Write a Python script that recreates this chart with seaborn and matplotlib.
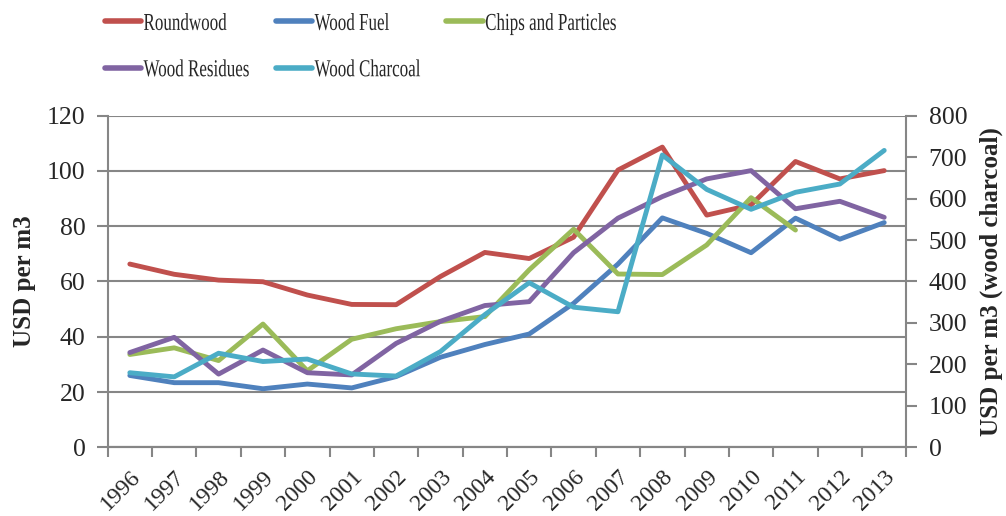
import numpy as np
import pandas as pd
import seaborn as sns
import matplotlib
matplotlib.use("Agg")
import matplotlib.pyplot as plt
from matplotlib.patheffects import AbstractPathEffect
from matplotlib.transforms import Affine2D, ScaledTranslation
from matplotlib.lines import Line2D

years = [str(y) for y in range(1996, 2014)]

roundwood = [66.3, 62.6, 60.5, 59.9, 55.1, 51.7, 51.6, 61.8, 70.5, 68.3,
             76.0, 100.3, 108.6, 84.0, 87.7, 103.4, 97.1, 100.1]
wood_fuel = [26.0, 23.4, 23.4, 21.2, 22.9, 21.5, 25.6, 32.6, 37.2, 41.0,
             52.1, 66.3, 83.0, 77.4, 70.4, 82.9, 75.3, 81.3]
chips = [33.6, 36.0, 31.4, 44.6, 27.7, 39.1, 42.9, 45.5, 47.3, 64.2,
         78.9, 62.7, 62.5, 73.2, 90.3, 78.6, np.nan, np.nan]
residues = [34.3, 39.8, 26.5, 35.2, 27.0, 26.2, 37.6, 45.6, 51.3, 52.7,
            70.4, 82.9, 90.7, 97.1, 100.1, 86.3, 89.0, 83.2]
charcoal = [180, 170, 227, 207, 213, 177, 172, 231, 320, 397,
            338, 327, 705, 622, 574, 615, 635, 716]

left_series = ["Roundwood", "Wood Fuel", "Chips and Particles", "Wood Residues"]
colors = {
    "Roundwood": "#C0504D",
    "Wood Fuel": "#4F81BD",
    "Chips and Particles": "#9BBB59",
    "Wood Residues": "#8064A2",
    "Wood Charcoal": "#4BACC6",
}

pos = np.arange(len(years))
left_df = pd.DataFrame({
    "pos": np.tile(pos, 4),
    "value": roundwood + wood_fuel + chips + residues,
    "series": np.repeat(left_series, len(years)),
}).dropna()
right_df = pd.DataFrame({"pos": pos, "value": charcoal})

sns.set_theme(style="white")
plt.rcParams["font.family"] = ["Liberation Serif", "DejaVu Serif"]

gray = "#868686"
lw = 3.5

fig = plt.figure(figsize=(10.06, 5.16), dpi=100)
ax = fig.add_axes([0.107, 0.133, 0.794, 0.643])

sns.lineplot(data=left_df, x="pos", y="value", hue="series",
             hue_order=left_series, palette=colors, linewidth=lw,
             errorbar=None, legend=False, ax=ax)
ax2 = ax.twinx()
sns.lineplot(data=right_df, x="pos", y="value", color=colors["Wood Charcoal"],
             linewidth=lw, errorbar=None, legend=False, ax=ax2)

# left axis
ax.set_xlim(-0.5, len(years) - 0.5)
ax.set_ylim(0, 120)
ax.set_yticks(np.arange(0, 121, 20))
ax.yaxis.grid(True, color=gray, linewidth=1.5)
ax.set_axisbelow(True)
ax.set_ylabel("USD per m3", fontsize=18, fontweight="bold", labelpad=8)
ax.set_xlabel("")

# categories: labels at centres, tick marks at boundaries
ax.set_xticks(pos)
ax.set_xticklabels(years, rotation=45, ha="right", va="top",
                   rotation_mode="anchor", fontsize=17)
shift = ScaledTranslation(-0.12, 0, fig.dpi_scale_trans)
for lab in ax.get_xticklabels():
    lab.set_transform(lab.get_transform() + shift)
ax.set_xticks(np.arange(-0.5, len(years)), minor=True)
ax.tick_params(axis="x", which="major", length=0, pad=13.5)
ax.tick_params(axis="x", which="minor", length=7, width=1.5, color=gray,
               direction="out", bottom=True)
ax.tick_params(axis="y", length=8, width=1.5, color=gray, direction="out",
               labelsize=18.5, pad=8, left=True)

# right axis
ax2.set_ylim(0, 800)
ax2.set_yticks(np.arange(0, 801, 100))
ax2.grid(False)
ax2.tick_params(axis="y", length=8, width=1.5, color=gray, direction="out",
                labelsize=18.5, pad=8, right=True)
ax2.set_ylabel("USD per m3 (wood charcoal)", fontsize=18, fontweight="bold",
               labelpad=9)
ax2.set_xlabel("")

for a in (ax, ax2):
    a.spines["top"].set_visible(False)
    for side in ("left", "right", "bottom"):
        a.spines[side].set_color(gray)
        a.spines[side].set_linewidth(1.5)
ax2.spines["left"].set_visible(False)
ax.spines["right"].set_visible(False)


class Condense(AbstractPathEffect):
    """Narrow the glyphs horizontally, keeping the text's start point."""

    def __init__(self, sx):
        super().__init__()
        self.sx = sx

    def draw_path(self, renderer, gc, tpath, affine, rgbFace=None):
        renderer.draw_path(gc, tpath, Affine2D().scale(self.sx, 1) + affine,
                           rgbFace)


legend_order = ["Roundwood", "Wood Residues", "Wood Fuel", "Wood Charcoal",
                "Chips and Particles"]
handles = [Line2D([], [], color=colors[n], linewidth=4) for n in legend_order]
leg = fig.legend(handles, legend_order, ncol=3, loc="upper left",
                 bbox_to_anchor=(0.104, 0.975), frameon=False, fontsize=17.5,
                 handlelength=1.5, handletextpad=0.1, columnspacing=-0.78,
                 labelspacing=1.0, borderpad=0, borderaxespad=0)
for t in leg.get_texts():
    t.set_path_effects([Condense(0.70)])

fig.savefig("out.png", dpi=100)
